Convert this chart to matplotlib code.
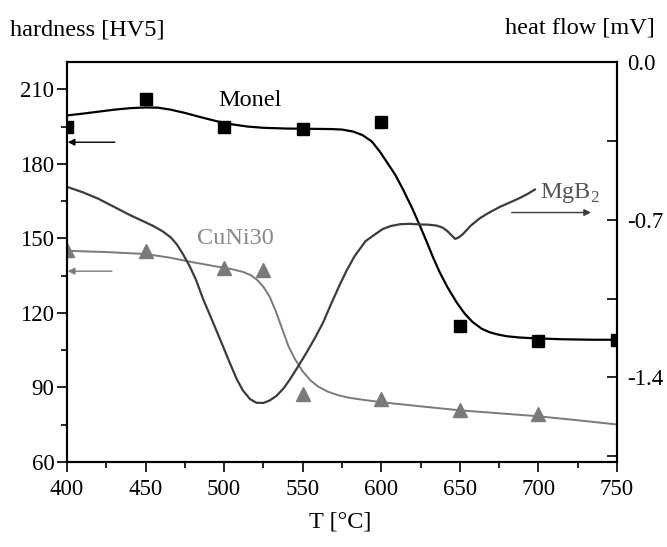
import matplotlib
matplotlib.use("Agg")
import matplotlib.pyplot as plt
from matplotlib.ticker import MultipleLocator, FixedLocator

plt.rcParams['font.family'] = ['Liberation Serif', 'DejaVu Serif']
plt.rcParams['mathtext.fontset'] = 'custom'
plt.rcParams['mathtext.rm'] = 'Liberation Serif'

# ---- data ----
monel_T = [400, 450, 500, 550, 600, 650, 700, 750]
monel_HV = [195, 206, 195, 194, 197, 114.6, 108.6, 109.2]

monel_fit_T = [400, 410, 420, 430, 440, 450, 458, 466, 475, 485, 495, 505, 515,
               525, 540, 555, 568, 575, 582, 588, 594, 599, 604, 609, 614, 620,
               625, 629, 633, 637, 642, 648, 653, 658, 664, 669, 675, 680, 688,
               697, 715, 735, 750]
monel_fit_HV = [199.5, 200.2, 201.0, 201.8, 202.4, 202.7, 202.6, 201.8, 200.5,
                198.8, 197.2, 195.9, 195.0, 194.5, 194.2, 194.1, 194.0, 193.8,
                193.0, 191.6, 189.0, 185.0, 180.3, 175.5, 169.5, 161.7, 154.5,
                148.5, 142.3, 136.6, 130.5, 124.2, 119.8, 116.4, 113.6, 112.2,
                111.2, 110.6, 110.1, 109.8, 109.4, 109.2, 109.2]

cuni_T = [400, 450, 500, 525, 550, 600, 650, 700]
cuni_HV = [145.5, 145, 138, 137.2, 87.3, 85.4, 81.1, 79.4]

cuni_fit_T = [400, 425, 450, 465, 480, 495, 505, 512, 517, 521, 525, 529, 533,
              537, 541, 545, 550, 555, 560, 566, 573, 580, 590, 601, 625, 650,
              675, 700, 725, 750]
cuni_fit_HV = [145.0, 144.5, 143.7, 142.3, 140.4, 138.7, 137.6, 136.5, 135.2,
               133.3, 130.5, 126.5, 120.5, 113.5, 106.5, 101.5, 96.5, 92.8,
               90.3, 88.3, 86.8, 85.8, 84.9, 84.0, 82.4, 80.8, 79.6, 78.4,
               76.8, 75.1]

mgb2_T = [400, 410, 420, 430, 440, 448, 455, 461, 466, 470, 474, 478, 482,
          486.7, 492, 497.4, 503, 508, 512, 516.5, 520.5, 525, 529, 533.4, 538,
          542, 547, 552.5, 558, 563, 568, 573.7, 578, 583, 590, 596, 601, 606,
          612, 618, 624.6, 630, 635.3, 639, 642, 645, 647, 649.5, 652.2, 657,
          662.8, 669, 675.5, 682, 688.3, 693, 697.8]
mgb2_HF = [-0.554, -0.578, -0.607, -0.643, -0.679, -0.705, -0.728, -0.752,
           -0.778, -0.810, -0.855, -0.905, -0.965, -1.053, -1.140, -1.230,
           -1.325, -1.407, -1.458, -1.496, -1.512, -1.513, -1.502, -1.481,
           -1.447, -1.407, -1.352, -1.289, -1.222, -1.156, -1.075, -0.987,
           -0.925, -0.862, -0.795, -0.765, -0.741, -0.728, -0.720, -0.718,
           -0.721, -0.722, -0.726, -0.735, -0.750, -0.771, -0.785, -0.778,
           -0.762, -0.726, -0.693, -0.667, -0.643, -0.623, -0.603, -0.586,
           -0.566]

x_ticks = [400, 450, 500, 550, 600, 650, 700, 750]
hv_ticks = [60, 90, 120, 150, 180, 210]
hf_ticks = [0.0, -0.7, -1.4]
hf_tick_labels = ["0.0", "-0.7", "-1.4"]

# ---- figure ----
fig = plt.figure(figsize=(6.67, 5.47), dpi=100)
ax = fig.add_axes([0.1004, 0.1554, 0.8246, 0.7313])
ax2 = ax.twinx()

fs = 16.5
fs_lab = 17.5
black = '#000000'
gray = '#7a7a7a'
dark = '#3c3c3c'

ax.plot(monel_fit_T, monel_fit_HV, color=black, lw=1.6, zorder=3,
        solid_joinstyle='round')
ax.plot(monel_T, monel_HV, 's', color=black, ms=8.2, zorder=4)
ax.plot(cuni_fit_T, cuni_fit_HV, color=gray, lw=1.4, zorder=3,
        solid_joinstyle='round')
ax.plot(cuni_T, cuni_HV, '^', color=gray, ms=10.5, zorder=4)

ax2.plot(mgb2_T, mgb2_HF, color=dark, lw=1.6, solid_joinstyle='round')

ax.set_xlim(400, 750)
ax.set_ylim(60, 221)
ax2.set_ylim(-1.775, 0.0)

ax.xaxis.set_major_locator(FixedLocator(x_ticks))
ax.xaxis.set_minor_locator(MultipleLocator(25))
ax.yaxis.set_major_locator(FixedLocator(hv_ticks))
ax.yaxis.set_minor_locator(MultipleLocator(15))
ax.tick_params(axis='both', which='major', direction='out', length=7, width=1.2,
               labelsize=fs, pad=2)
ax.tick_params(axis='x', which='major', pad=5)
ax.tick_params(axis='both', which='minor', direction='out', length=4, width=1.2)
ax.tick_params(top=False, right=False, which='both')

ax2.yaxis.set_major_locator(FixedLocator(hf_ticks))
ax2.set_yticklabels(hf_tick_labels)
ax2.yaxis.set_minor_locator(FixedLocator([-0.35, -1.05, -1.75]))
ax2.tick_params(axis='y', which='major', direction='in', length=7, width=1.2,
                labelsize=fs, pad=7)
ax2.tick_params(axis='y', which='minor', direction='in', length=7, width=1.2)

for a in (ax, ax2):
    for s in a.spines.values():
        s.set_linewidth(1.5)

# labels
ax.text(496, 205.5, "Monel", color=black, fontsize=fs_lab, ha='left', va='center')
ax.text(482.7, 150, "CuNi30", color='#888888', fontsize=fs_lab, ha='left',
        va='center')
ax2.text(701, -0.58, r"MgB$_\mathregular{2}$", color='#555555', fontsize=fs_lab,
         ha='left', va='center')

# arrows
ax.annotate("", xy=(400.5, 188.7), xytext=(430.5, 188.7),
            arrowprops=dict(arrowstyle='-|>', color=black, lw=1.0,
                            mutation_scale=10, shrinkA=0, shrinkB=0))
ax.annotate("", xy=(400.5, 136.8), xytext=(428.6, 136.8),
            arrowprops=dict(arrowstyle='-|>', color=gray, lw=1.0,
                            mutation_scale=10, shrinkA=0, shrinkB=0))
ax2.annotate("", xy=(733.5, -0.668), xytext=(683, -0.668),
             arrowprops=dict(arrowstyle='-|>', color=dark, lw=1.0,
                             mutation_scale=10, shrinkA=0, shrinkB=0))

fig.text(0.015, 0.945, "hardness [HV5]", fontsize=fs_lab, ha='left', va='center')
fig.text(0.982, 0.948, "heat flow [mV]", fontsize=fs_lab, ha='right', va='center')
fig.text(0.51, 0.046, "T [°C]", fontsize=fs_lab, ha='center', va='center')

fig.savefig("out.png", dpi=100)
